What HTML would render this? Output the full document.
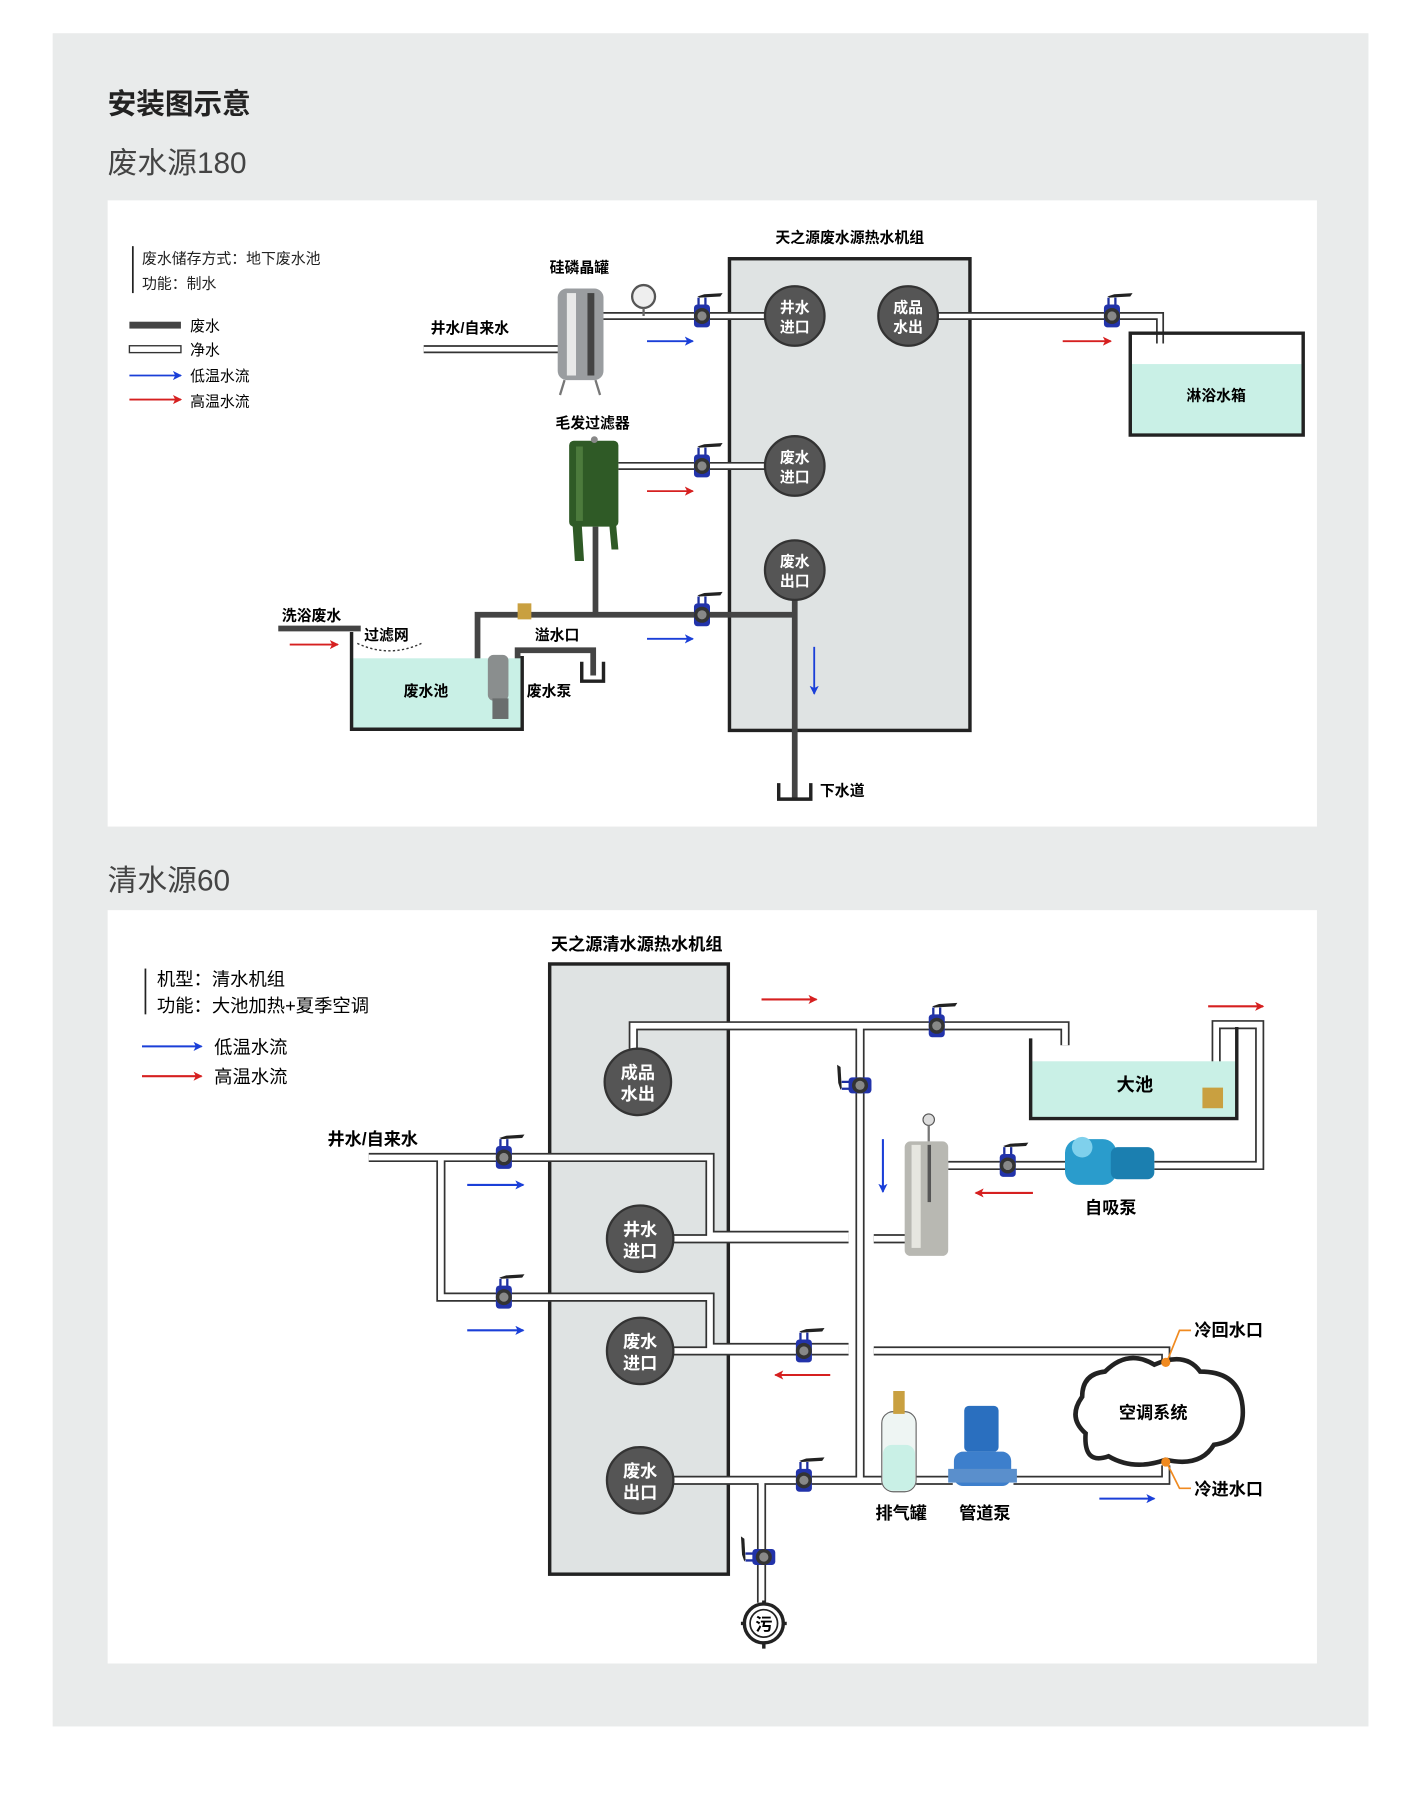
<!DOCTYPE html>
<html><head><meta charset="utf-8"><style>
html,body{margin:0;padding:0;background:#fff}
svg{display:block}
text{font-family:"Liberation Sans","Noto Sans CJK SC",sans-serif}
.b{font-weight:bold}
</style></head><body>
<svg width="1420" height="1794" viewBox="0 0 1240 1567" preserveAspectRatio="none" xmlns="http://www.w3.org/2000/svg">
<defs>
<marker id="ab" markerWidth="8" markerHeight="8" refX="7" refY="4" orient="auto" markerUnits="userSpaceOnUse"><path d="M0,0 L8,4 L0,8 L2,4Z" fill="#1a3fd8"/></marker>
<marker id="ar" markerWidth="8" markerHeight="8" refX="7" refY="4" orient="auto" markerUnits="userSpaceOnUse"><path d="M0,0 L8,4 L0,8 L2,4Z" fill="#d62020"/></marker>
<g id="valve"><path d="M-3,-8 L-3,-16 M3,-8 L3,-16" stroke="#1d2fa0" stroke-width="2"/><path d="M-4,-17 L2,-19 L18,-20 L16,-17 L-2,-16Z" fill="#222"/><rect x="-7" y="-10" width="14" height="20" rx="3" fill="#2233aa"/><circle r="7" fill="#333"/><circle r="4" fill="#888"/></g>
<g id="p1">
<path d="M370,305 H490"/><path d="M527,276 H668"/><path d="M540,407 H668"/><path d="M819,276 H1013 V300"/>
</g>
<g id="p2">
<path d="M322,1011 H620 V1079 H741"/><path d="M385,1011 V1133 H620 V1177 H741"/>
<path d="M587,1082 H741"/><path d="M763,1082 H792"/>
<path d="M587,1180 H741"/><path d="M763,1180 H1018 V1190"/>
<path d="M553,916 V896 H930 V913"/><path d="M751,896 V1293"/>
<path d="M828,1018 H930"/><path d="M1008,1018 H1100 V895 H1062 V965"/>
<path d="M587,1293 H770"/><path d="M800,1293 H832"/><path d="M885,1293 H1018 V1280"/>
<path d="M665,1293 V1400"/>
</g>
</defs>
<rect width="1240" height="1567" fill="#fff"/>
<rect x="46" y="29" width="1149" height="1479" fill="#e9ebeb"/>
<text x="94" y="99" font-size="25" class="b" fill="#222">安装图示意</text>
<text x="94" y="151" font-size="26" fill="#444">废水源180</text>
<rect x="94" y="175" width="1056" height="547" fill="#fff"/>
<text x="94" y="778" font-size="26" fill="#444">清水源60</text>
<rect x="94" y="795" width="1056" height="658" fill="#fff"/>

<!-- Panel 1 -->
<line x1="116" y1="215" x2="116" y2="256" stroke="#222" stroke-width="1.5"/>
<text x="124" y="230" font-size="13" fill="#222">废水储存方式：地下废水池</text>
<text x="124" y="252" font-size="13" fill="#222">功能：制水</text>
<rect x="113" y="281" width="45" height="6" fill="#444"/><text x="166" y="289" font-size="13">废水</text>
<rect x="113" y="302" width="45" height="6" fill="#fff" stroke="#333" stroke-width="1.2"/><text x="166" y="310" font-size="13">净水</text>
<line x1="113" y1="328" x2="158" y2="328" stroke="#1a3fd8" stroke-width="1.6" marker-end="url(#ab)"/><text x="166" y="333" font-size="13">低温水流</text>
<line x1="113" y1="349" x2="158" y2="349" stroke="#d62020" stroke-width="1.6" marker-end="url(#ar)"/><text x="166" y="355" font-size="13">高温水流</text>

<text x="742" y="212" font-size="13" class="b" text-anchor="middle">天之源废水源热水机组</text>
<rect x="637" y="226" width="210" height="412" fill="#dfe3e3" stroke="#222" stroke-width="3"/>

<use href="#p1" stroke="#333" stroke-width="7" fill="none"/>
<use href="#p1" stroke="#fff" stroke-width="4" fill="none"/>
<!-- dark pipes -->
<g stroke="#444" stroke-width="5" fill="none">
<path d="M520,460 V537"/><path d="M417,620 V537 H694"/><path d="M694,520 V697"/>
<path d="M243,549 H315"/><path d="M452,600 V568 H518 V590"/>
</g>
<path d="M680,684 V698 H708 V684" stroke="#222" stroke-width="3" fill="none"/>
<text x="716" y="695" font-size="13" class="b">下水道</text>
<path d="M508,578 V595 H527 V578" stroke="#222" stroke-width="3" fill="none"/>

<circle cx="694" cy="276" r="26" fill="#555" stroke="#333" stroke-width="2"/>
<circle cx="793" cy="276" r="26" fill="#555" stroke="#333" stroke-width="2"/>
<circle cx="694" cy="407" r="26" fill="#555" stroke="#333" stroke-width="2"/>
<circle cx="694" cy="498" r="26" fill="#555" stroke="#333" stroke-width="2"/>
<g font-size="13" class="b" fill="#fff" text-anchor="middle">
<text x="694" y="273">井水</text><text x="694" y="290">进口</text>
<text x="793" y="273">成品</text><text x="793" y="290">水出</text>
<text x="694" y="404">废水</text><text x="694" y="421">进口</text>
<text x="694" y="495">废水</text><text x="694" y="512">出口</text>
</g>
<use href="#valve" x="613" y="276"/><use href="#valve" x="613" y="407"/><use href="#valve" x="613" y="537"/><use href="#valve" x="971" y="276"/>

<text x="376" y="291" font-size="13" class="b">井水/自来水</text>
<text x="480" y="238" font-size="13" class="b">硅磷晶罐</text>
<rect x="487" y="252" width="40" height="80" rx="8" fill="#9a9da0"/><rect x="495" y="256" width="8" height="72" fill="#e8e8e8"/><rect x="513" y="256" width="6" height="72" fill="#444"/>
<path d="M493,332 L489,345 M520,332 L524,345" stroke="#777" stroke-width="2"/>
<circle cx="562" cy="259" r="10" fill="#eee" stroke="#555" stroke-width="2"/><line x1="562" y1="269" x2="562" y2="276" stroke="#666" stroke-width="2"/>
<line x1="565" y1="298" x2="605" y2="298" stroke="#1a3fd8" stroke-width="1.6" marker-end="url(#ab)"/>
<line x1="928" y1="298" x2="970" y2="298" stroke="#d62020" stroke-width="1.6" marker-end="url(#ar)"/>
<rect x="987" y="318" width="151" height="62" fill="#c9f0e6"/>
<path d="M987,291 H1138 V380 H987Z" fill="none" stroke="#222" stroke-width="3"/>
<text x="1062" y="350" font-size="13" class="b" text-anchor="middle">淋浴水箱</text>

<text x="485" y="374" font-size="13" class="b">毛发过滤器</text>
<rect x="497" y="385" width="43" height="75" rx="4" fill="#2f5a26"/><rect x="503" y="390" width="6" height="65" fill="#4c7a3c"/>
<path d="M500,458 L502,490 L510,490 L508,458 M532,458 L534,480 L540,480 L538,458" fill="#2f5a26"/>
<circle cx="519" cy="384" r="3" fill="#888"/>
<line x1="565" y1="429" x2="605" y2="429" stroke="#d62020" stroke-width="1.6" marker-end="url(#ar)"/>
<line x1="565" y1="558" x2="605" y2="558" stroke="#1a3fd8" stroke-width="1.6" marker-end="url(#ab)"/>
<line x1="711" y1="565" x2="711" y2="606" stroke="#1a3fd8" stroke-width="1.6" marker-end="url(#ab)"/>

<text x="246" y="542" font-size="13" class="b">洗浴废水</text>
<line x1="253" y1="563" x2="295" y2="563" stroke="#d62020" stroke-width="1.6" marker-end="url(#ar)"/>
<text x="318" y="559" font-size="13" class="b">过滤网</text>
<path d="M312,562 Q340,575 368,562" stroke="#333" stroke-width="1.2" stroke-dasharray="2,2" fill="none"/>
<rect x="307" y="575" width="149" height="62" fill="#c9f0e6"/>
<path d="M307,552 V637 H456 V573" fill="none" stroke="#222" stroke-width="3"/>
<text x="372" y="608" font-size="13" class="b" text-anchor="middle">废水池</text>
<rect x="426" y="572" width="18" height="40" rx="5" fill="#8a8e8e"/><rect x="430" y="610" width="14" height="18" fill="#6a6e6e"/>
<rect x="452" y="527" width="12" height="14" fill="#c9a040"/>
<text x="467" y="559" font-size="13" class="b">溢水口</text>
<text x="460" y="608" font-size="13" class="b">废水泵</text>

<!-- Panel 2 -->
<line x1="127" y1="846" x2="127" y2="886" stroke="#222" stroke-width="1.5"/>
<text x="137" y="861" font-size="16">机型：清水机组</text>
<text x="137" y="884" font-size="16">功能：大池加热+夏季空调</text>
<line x1="124" y1="914" x2="176" y2="914" stroke="#1a3fd8" stroke-width="1.8" marker-end="url(#ab)"/><text x="187" y="920" font-size="16">低温水流</text>
<line x1="124" y1="940" x2="176" y2="940" stroke="#d62020" stroke-width="1.8" marker-end="url(#ar)"/><text x="187" y="946" font-size="16">高温水流</text>

<text x="556" y="830" font-size="15" class="b" text-anchor="middle">天之源清水源热水机组</text>
<rect x="480" y="842" width="156" height="533" fill="#dfe3e3" stroke="#222" stroke-width="3"/>

<use href="#p2" stroke="#333" stroke-width="8" fill="none"/>
<use href="#p2" stroke="#fff" stroke-width="5" fill="none"/>

<g fill="#555" stroke="#333" stroke-width="2">
<circle cx="557" cy="945" r="29"/><circle cx="559" cy="1082" r="29"/><circle cx="559" cy="1180" r="29"/><circle cx="559" cy="1293" r="29"/>
</g>
<g font-size="15" class="b" fill="#fff" text-anchor="middle">
<text x="557" y="942">成品</text><text x="557" y="961">水出</text>
<text x="559" y="1079">井水</text><text x="559" y="1098">进口</text>
<text x="559" y="1177">废水</text><text x="559" y="1196">进口</text>
<text x="559" y="1290">废水</text><text x="559" y="1309">出口</text>
</g>
<use href="#valve" x="440" y="1011"/><use href="#valve" x="440" y="1133"/><use href="#valve" x="818" y="896"/>
<use href="#valve" x="880" y="1018"/><use href="#valve" x="702" y="1180"/><use href="#valve" x="702" y="1293"/>
<g transform="translate(751,948) rotate(-90)"><use href="#valve"/></g>
<g transform="translate(667,1360) rotate(-90)"><use href="#valve"/></g>

<text x="286" y="1000" font-size="15" class="b">井水/自来水</text>
<line x1="408" y1="1035" x2="457" y2="1035" stroke="#1a3fd8" stroke-width="1.8" marker-end="url(#ab)"/>
<line x1="408" y1="1162" x2="457" y2="1162" stroke="#1a3fd8" stroke-width="1.8" marker-end="url(#ab)"/>
<line x1="665" y1="873" x2="713" y2="873" stroke="#d62020" stroke-width="1.8" marker-end="url(#ar)"/>
<line x1="1055" y1="879" x2="1103" y2="879" stroke="#d62020" stroke-width="1.8" marker-end="url(#ar)"/>
<line x1="771" y1="995" x2="771" y2="1041" stroke="#1a3fd8" stroke-width="1.8" marker-end="url(#ab)"/>
<line x1="902" y1="1042" x2="852" y2="1042" stroke="#d62020" stroke-width="1.8" marker-end="url(#ar)"/>
<line x1="725" y1="1201" x2="677" y2="1201" stroke="#d62020" stroke-width="1.8" marker-end="url(#ar)"/>
<line x1="960" y1="1309" x2="1008" y2="1309" stroke="#1a3fd8" stroke-width="1.8" marker-end="url(#ab)"/>

<rect x="900" y="927" width="180" height="50" fill="#c9f0e6"/>
<path d="M900,907 V977 H1080 V897" fill="none" stroke="#222" stroke-width="3"/>
<text x="991" y="953" font-size="16" class="b" text-anchor="middle">大池</text>
<rect x="1050" y="950" width="18" height="18" fill="#c9a040"/>

<!-- filter -->
<circle cx="811" cy="978" r="5" fill="#ddd" stroke="#555"/><line x1="811" y1="983" x2="811" y2="997" stroke="#777" stroke-width="2"/>
<rect x="790" y="997" width="38" height="100" rx="5" fill="#b8b8b2"/><rect x="796" y="1000" width="8" height="90" fill="#e6e6e0"/><rect x="810" y="1000" width="3" height="50" fill="#555"/>
<!-- pump -->
<rect x="930" y="995" width="45" height="40" rx="12" fill="#2a9ccc"/><rect x="970" y="1002" width="38" height="28" rx="6" fill="#1b7fb0"/><circle cx="945" cy="1002" r="9" fill="#7fd0ec"/>
<text x="970" y="1060" font-size="15" class="b" text-anchor="middle">自吸泵</text>
<!-- 排气罐 -->
<rect x="770" y="1233" width="30" height="70" rx="10" fill="#eef5f3" stroke="#666"/><rect x="771" y="1262" width="28" height="40" rx="8" fill="#c9f0e6"/><rect x="780" y="1215" width="10" height="20" fill="#c9a040"/>
<text x="787" y="1327" font-size="15" class="b" text-anchor="middle">排气罐</text>
<!-- 管道泵 -->
<rect x="842" y="1228" width="30" height="40" rx="4" fill="#2a6fbf"/><rect x="833" y="1268" width="50" height="30" rx="8" fill="#3d7fcc"/><rect x="828" y="1283" width="60" height="12" fill="#5a8fcc"/>
<text x="860" y="1327" font-size="15" class="b" text-anchor="middle">管道泵</text>
<!-- cloud -->
<path d="M965,1198 Q985,1178 1008,1192 Q1035,1180 1048,1198 Q1082,1198 1085,1228 Q1088,1258 1060,1262 Q1048,1282 1018,1275 Q990,1285 968,1272 Q946,1280 948,1252 Q932,1238 945,1220 Q945,1200 965,1198Z" fill="#fff" stroke="#222" stroke-width="4"/>
<text x="1007" y="1239" font-size="15" class="b" text-anchor="middle">空调系统</text>
<circle cx="1018" cy="1190" r="4" fill="#f08a20"/><circle cx="1018" cy="1277" r="4" fill="#f08a20"/>
<path d="M1020,1187 L1030,1162 H1040 M1020,1280 L1030,1300 H1040" stroke="#f08a20" stroke-width="1.5" fill="none"/>
<text x="1043" y="1167" font-size="15" class="b">冷回水口</text>
<text x="1043" y="1306" font-size="15" class="b">冷进水口</text>
<!-- drain -->
<circle cx="667" cy="1418" r="17" fill="#fff" stroke="#222" stroke-width="3"/><circle cx="667" cy="1418" r="12" fill="none" stroke="#222" stroke-width="1.5"/>
<path d="M647,1418 H650 M684,1418 H687 M667,1398 V1401 M667,1435 V1440" stroke="#222" stroke-width="3"/>
<text x="667" y="1424" font-size="15" class="b" text-anchor="middle">污</text>
</svg>
</body></html>
